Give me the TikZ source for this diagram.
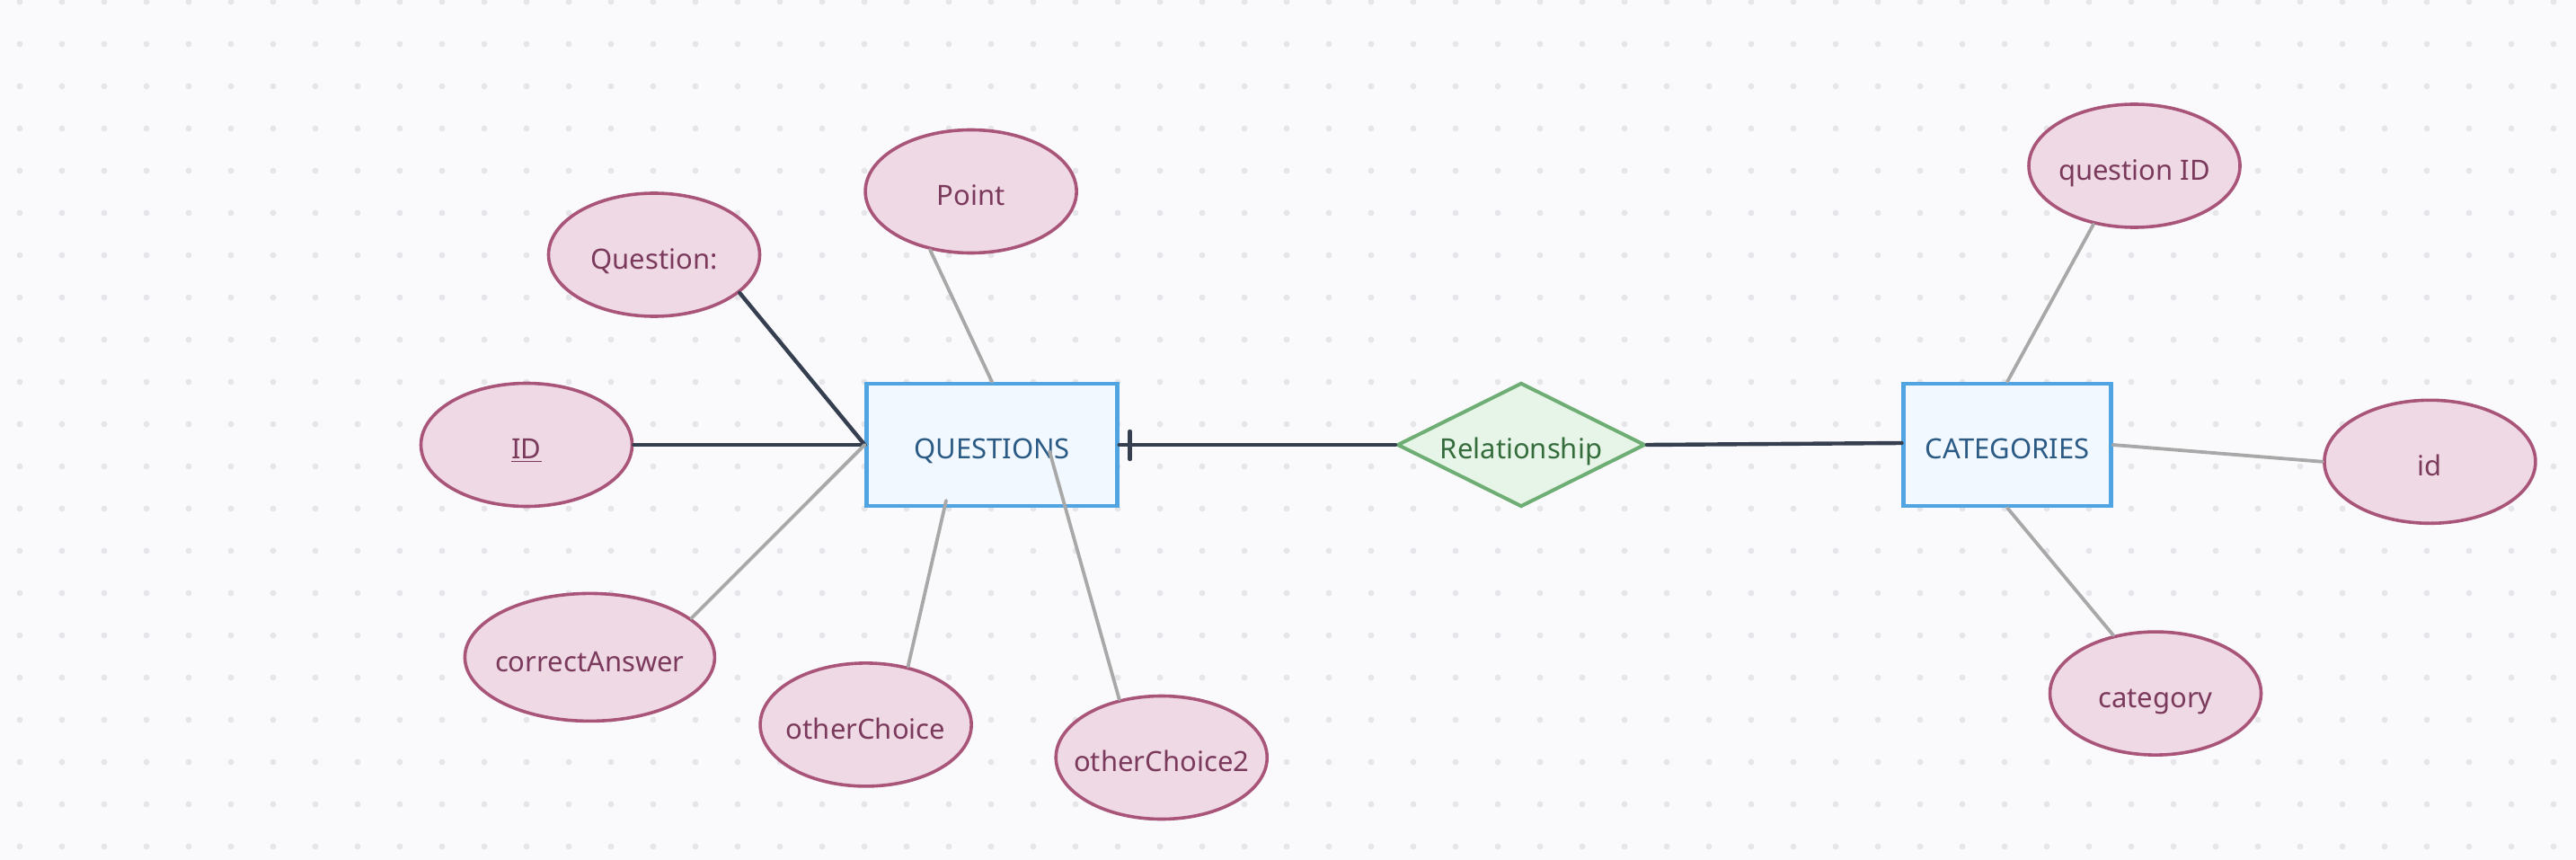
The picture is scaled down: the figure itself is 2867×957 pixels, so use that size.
\documentclass[tikz,border=0pt]{standalone}
\usepackage{fontspec}
\setmainfont{Noto Sans}
\usetikzlibrary{shapes.geometric,calc}
\definecolor{bg}{HTML}{FAFAFC}
\definecolor{dotc}{HTML}{E6E6EA}
\definecolor{efill}{HTML}{EFD9E5}
\definecolor{ebord}{HTML}{A9557A}
\definecolor{etext}{HTML}{7B3A5C}
\definecolor{rfill}{HTML}{F1F8FF}
\definecolor{rbord}{HTML}{4FA4E1}
\definecolor{rtext}{HTML}{2B5B85}
\definecolor{dfill}{HTML}{E6F5E8}
\definecolor{dbord}{HTML}{6EAE74}
\definecolor{dtext}{HTML}{356C3B}
\definecolor{darkl}{HTML}{363F50}
\definecolor{grayl}{HTML}{A8A8A8}
\newcommand{\zb}[1]{\makebox[0pt]{#1}}
\tikzset{
  lbl/.style={font=\fontsize{15.5}{18}\selectfont, inner sep=0pt, text height=17.7pt, text depth=2pt},
  attr/.style={lbl, shape=ellipse, draw=ebord, fill=efill, text=etext, line width=1.8pt,
    minimum width=117.5pt, minimum height=68.5pt},
  entity/.style={lbl, shape=rectangle, draw=rbord, fill=rfill, text=rtext, line width=2.1pt,
    minimum height=68pt},
  rel/.style={lbl, shape=diamond, aspect=2, draw=dbord, fill=dfill, text=dtext, line width=2pt,
    minimum width=138pt, minimum height=69pt},
  darkline/.style={draw=darkl, line width=2.2pt, line cap=round},
  grayline/.style={draw=grayl, line width=1.9pt, line cap=round}
}
\begin{document}
\begin{tikzpicture}[x=0.5pt,y=-0.5pt]
\useasboundingbox (0,0) rectangle (2867,957);
\fill[bg] (0,0) rectangle (2867,957);
\foreach \i in {0,...,60} {
  \foreach \j in {0,...,20} {
    \fill[dotc] (22+47*\i, 2+47*\j) circle[radius=3.4];
  }
}
\path
  (1104,495) node[entity, minimum width=139.5pt] (Q) {\zb{QUESTIONS}}
  (2234,495) node[entity, minimum width=115.5pt] (C) {\zb{CATEGORIES}}
  (1693,495) node[rel] (R) {\zb{Relationship}}
  (728,283.5) node[attr] (q1) {\zb{Question:}}
  (1080.6,213) node[attr] (pt) {\zb{Point}}
  (586,495) node[attr] (id1) {\zb{\underline{ID}}}
  (656.4,731.4) node[attr, minimum width=139pt, minimum height=71pt] (ca) {\zb{correctAnswer}}
  (963.6,806.4) node[attr] (oc) {\zb{otherChoice}}
  (1292.7,843) node[attr] (oc2) {\zb{otherChoice2}}
  (2375.5,184.5) node[attr] (qid) {\zb{question ID}}
  (2704.4,513.8) node[attr] (id2) {\zb{id}}
  (2399,771.6) node[attr] (cat) {\zb{category}};
\coordinate (ocend) at ($(Q.center)+(-51,62)$);
\coordinate (oc2end) at ($(Q.center)+(64,7)$);
\coordinate (tickA) at ($(Q.east)+(12,-15)$);
\coordinate (tickB) at ($(Q.east)+(12,16)$);
\coordinate (cin) at ($(C.west)+(0,-2)$);
\draw[darkline] (q1.-24) -- (Q.west);
\draw[darkline] (id1.east) -- (Q.west);
\draw[grayline] (ca.21) -- (Q.west);
\draw[grayline] (pt.-125) -- (Q.north);
\draw[grayline] (oc.54) -- (ocend);
\draw[grayline] (oc2.126) -- (oc2end);
\draw[darkline] (Q.east) -- (R.west);
\draw[darkline] (tickA) -- (tickB);
\draw[darkline] (R.east) -- (cin);
\draw[grayline] (qid.-125) -- (C.north);
\draw[grayline] (C.east) -- (id2.west);
\draw[grayline] (C.south) -- (cat.126);
\end{tikzpicture}
\end{document}
